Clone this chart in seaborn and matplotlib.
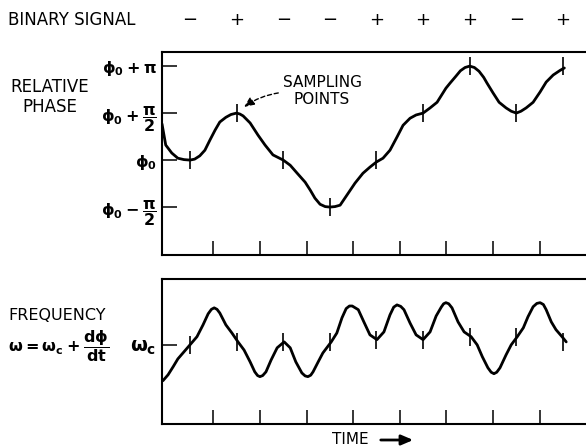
import numpy as np
import matplotlib
matplotlib.use("Agg")
import matplotlib.pyplot as plt
import matplotlib.transforms as mtransforms
from matplotlib.patches import FancyArrowPatch
import seaborn as sns

# binary signal and phase (units of pi/2 about phi0) at the sampling instants
binary_signal = ["\u2212", "+", "\u2212", "\u2212", "+", "+", "+", "\u2212", "+"]
sample_t = [0, 1, 2, 3, 4, 5, 6, 7, 8]
phase_at_samples = [0, 1, 0, -1, 0, 1, 2, 1, 2]
freq_at_samples = [0.0, 0.08, 0.08, 0.08, 0.14, 0.14, 0.22, 0.22, 0.08]

# relative phase trace (time in bit periods)
phase_t = [-0.60, -0.52, -0.39, -0.26, -0.13, 0.0, 0.10, 0.21, 0.32, 0.43, 0.54,
           0.64, 0.77, 0.88, 1.0, 1.07, 1.14, 1.29, 1.46, 1.61, 1.78, 2.0, 2.15,
           2.30, 2.47, 2.58, 2.68, 2.79, 2.90, 3.0, 3.11, 3.22, 3.37, 3.54, 3.71,
           3.86, 4.0, 4.14, 4.29, 4.44, 4.57, 4.72, 4.85, 5.0, 5.15, 5.30, 5.49,
           5.58, 5.70, 5.80, 5.90, 6.0, 6.10, 6.20, 6.30, 6.37, 6.50, 6.63, 6.78,
           6.89, 7.0, 7.10, 7.21, 7.36, 7.51, 7.64, 7.79, 7.94, 8.03]
phase_v = [0.77, 0.32, 0.15, 0.04, 0.01, 0.0, 0.02, 0.09, 0.21, 0.43, 0.64,
           0.81, 0.91, 0.97, 1.0, 0.98, 0.94, 0.79, 0.53, 0.32, 0.11, 0.0, -0.11,
           -0.28, -0.47, -0.64, -0.81, -0.94, -0.99, -1.0, -0.99, -0.96, -0.74,
           -0.49, -0.28, -0.15, -0.04, 0.04, 0.21, 0.49, 0.74, 0.89, 0.96, 1.0,
           1.11, 1.23, 1.53, 1.64, 1.78, 1.90, 1.97, 2.0, 1.97, 1.89, 1.76, 1.64,
           1.43, 1.23, 1.11, 1.04, 1.0, 1.04, 1.11, 1.23, 1.45, 1.66, 1.81, 1.91,
           1.96]

# frequency trace (relative to omega_c)
freq_t = [-0.58, -0.47, -0.36, -0.26, -0.13, 0.0, 0.15, 0.28, 0.39, 0.46, 0.52,
          0.58, 0.64, 0.77, 0.90, 1.03, 1.16, 1.29, 1.39, 1.45, 1.50, 1.56, 1.63,
          1.74, 1.87, 2.02, 2.15, 2.27, 2.40, 2.47, 2.53, 2.59, 2.64, 2.75, 2.85,
          3.03, 3.15, 3.26, 3.35, 3.42, 3.48, 3.61, 3.73, 3.86, 4.01, 4.16, 4.29,
          4.37, 4.44, 4.52, 4.59, 4.72, 4.85, 5.0, 5.15, 5.28, 5.39, 5.44, 5.49,
          5.55, 5.62, 5.75, 5.88, 6.03, 6.16, 6.27, 6.39, 6.46, 6.52, 6.58, 6.65,
          6.78, 6.89, 7.02, 7.15, 7.25, 7.36, 7.44, 7.51, 7.58, 7.64, 7.75, 7.85,
          7.98, 8.07]
freq_v = [-0.97, -0.81, -0.59, -0.38, -0.19, 0.0, 0.22, 0.54, 0.84, 0.96, 1.0,
          0.96, 0.86, 0.54, 0.32, 0.08, -0.14, -0.46, -0.73, -0.83, -0.86, -0.83,
          -0.73, -0.41, -0.08, 0.08, -0.08, -0.46, -0.76, -0.84, -0.86, -0.82,
          -0.73, -0.46, -0.22, 0.08, 0.32, 0.73, 0.98, 1.05, 1.05, 0.95, 0.62,
          0.27, 0.14, 0.35, 0.81, 1.02, 1.08, 1.04, 0.95, 0.59, 0.27, 0.14, 0.35,
          0.78, 1.02, 1.11, 1.14, 1.11, 1.0, 0.62, 0.35, 0.22, 0.0, -0.32, -0.62,
          -0.74, -0.78, -0.74, -0.62, -0.27, 0.0, 0.22, 0.46, 0.76, 1.03, 1.12,
          1.14, 1.09, 0.95, 0.62, 0.41, 0.22, 0.08]

bit_ticks = [0.5, 1.5, 2.5, 3.5, 4.5, 5.5, 6.5, 7.5]
phase_ticks = [2, 1, 0, -1]
phase_labels = [r"$\phi_0+\pi$", r"$\phi_0+\dfrac{\pi}{2}$", r"$\phi_0$",
                r"$\phi_0-\dfrac{\pi}{2}$"]

sns.set_theme(style="white")
plt.rcParams["font.family"] = ["DejaVu Sans"]
plt.rcParams["text.color"] = "black"
plt.rcParams["mathtext.fontset"] = "custom"
plt.rcParams["mathtext.rm"] = "DejaVu Sans:bold"
plt.rcParams["mathtext.it"] = "DejaVu Sans:bold"
plt.rcParams["mathtext.bf"] = "DejaVu Sans:bold"

W, H = 586, 446
fig = plt.figure(figsize=(W / 100, H / 100), dpi=100)
ax1 = fig.add_axes([162 / W, 1 - 255 / H, 428 / W, 203 / H])
ax2 = fig.add_axes([162 / W, 1 - 424 / H, 428 / W, 145 / H])

line_kw = dict(color="black", linewidth=2.0, sort=False, estimator=None,
               solid_joinstyle="round", solid_capstyle="round")

# top panel: relative phase
sns.lineplot(x=phase_t, y=phase_v, ax=ax1, **line_kw)
sns.scatterplot(x=sample_t, y=phase_at_samples, ax=ax1, marker="|", s=150,
                color="black", linewidth=1.2, zorder=5)
ax1.set_xlim(-0.60, 8.58)
ax1.set_ylim(-2.02, 2.30)
ax1.set_yticks(phase_ticks, phase_labels)

# bottom panel: frequency
sns.lineplot(x=freq_t, y=freq_v, ax=ax2, **line_kw)
sns.scatterplot(x=sample_t, y=freq_at_samples, ax=ax2, marker="|", s=150,
                color="black", linewidth=1.2, zorder=5)
ax2.set_xlim(-0.60, 8.58)
ax2.set_ylim(-2.14, 1.78)
ax2.set_yticks([0], [r"$\omega_c$"])

for ax in (ax1, ax2):
    ax.set_xticks(bit_ticks)
    ax.set_xticklabels([])
    ax.tick_params(axis="x", direction="in", length=10, width=1.1, color="black",
                   bottom=True)
    ax.tick_params(axis="y", direction="in", length=11, width=1.1, color="black",
                   left=True, pad=4, labelsize=11.5, labelcolor="black")
    ax.spines["right"].set_visible(False)
    for s in ("left", "top", "bottom"):
        ax.spines[s].set_color("black")
        ax.spines[s].set_linewidth(1.5)
    ax.set_xlabel("")
    ax.set_ylabel("")
ax2.tick_params(axis="y", labelsize=14)

# binary signal row above the top panel
trans = mtransforms.blended_transform_factory(ax1.transData, fig.transFigure)
for t, b in zip(sample_t, binary_signal):
    ax1.text(t, 1 - 20 / H, b, transform=trans, ha="center", va="center",
             fontsize=13, color="black")
fig.text(8 / W, 1 - 20 / H, "BINARY SIGNAL", ha="left", va="center", fontsize=12)

fig.text(50 / W, 1 - 97 / H, "RELATIVE\nPHASE", ha="center", va="center",
         fontsize=12, linespacing=1.15)
fig.text(8 / W, 1 - 315 / H, "FREQUENCY", ha="left", va="center", fontsize=11.5)
fig.text(8 / W, 1 - 346 / H, r"$\omega=\omega_c+\dfrac{d\phi}{dt}$", ha="left",
         va="center", fontsize=11.5)

# sampling points callout
fig.text(322 / W, 1 - 91 / H, "SAMPLING\nPOINTS", ha="center", va="center",
         fontsize=11, linespacing=1.2)
ax1.annotate("", xy=(sample_t[1], phase_at_samples[1]),
             xytext=(30, 14.5), textcoords="offset points",
             arrowprops=dict(arrowstyle="-|>,head_length=0.5,head_width=0.22",
                             linestyle=(0, (3, 2)), lw=1.0,
                             color="black", shrinkA=0, shrinkB=7,
                             connectionstyle="arc3,rad=0.15"))

# time axis label
fig.text(332 / W, 1 - 440 / H, "TIME", ha="left", va="center", fontsize=11)
fig.patches.append(FancyArrowPatch(
    (378 / W, 1 - 440 / H), (416 / W, 1 - 440 / H), transform=fig.transFigure,
    arrowstyle="-|>,head_length=7,head_width=3", lw=2.0, color="black"))

fig.savefig("out.png", dpi=100)
